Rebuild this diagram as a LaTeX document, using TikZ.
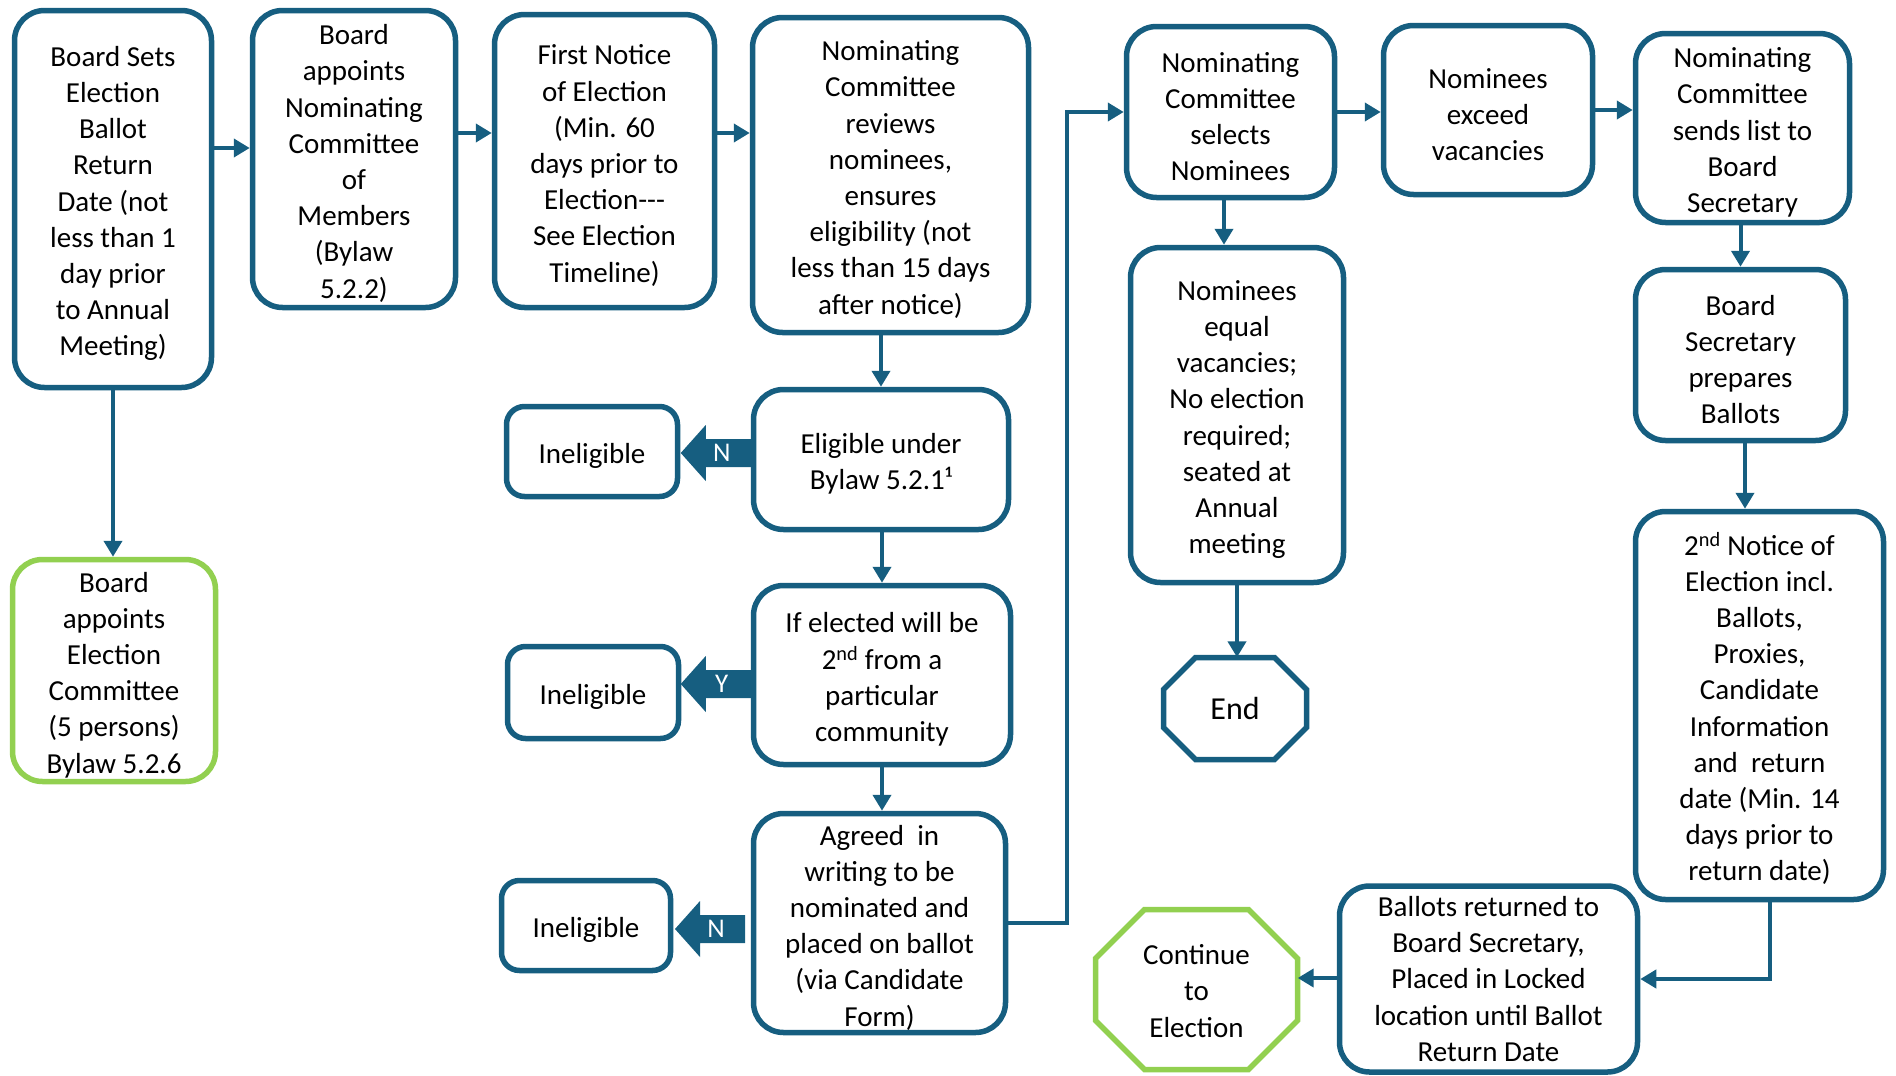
\documentclass[tikz,border=0pt]{standalone}
\usepackage{fontspec}
\setmainfont{Carlito}
\usetikzlibrary{arrows.meta,calc}
\definecolor{myblue}{RGB}{22,94,128}
\definecolor{mygreen}{RGB}{146,208,80}
\newcommand{\fs}{\fontsize{29}{36.2}\selectfont}
\newcommand{\tp}{\rule{0pt}{29pt}}
\newcommand{\blkarrow}[4]{%
  \fill[myblue] ($(#1)+(0,-14)$) -- ++(-45,0) -- ++(0,-14) -- ++(-25,28) -- ++(25,28) -- ++(0,-14) -- ++(45,0) -- cycle;
  \node[text=white, font=\fontsize{27}{30}\selectfont, inner sep=0pt] (#4) at ($(#1)+(-29,0)$) {#2};}
\tikzset{
  box/.style={draw=myblue, line width=5.5pt, rounded corners=30pt, fill=white, align=center, inner sep=0pt, font=\fs},
  gbox/.style={box, draw=mygreen},
  ibox/.style={box, rounded corners=18pt},
  sz/.style 2 args={minimum width=#1pt, minimum height=#2pt},
  conn/.style={draw=myblue, line width=4pt, -{Triangle[length=16pt,width=18pt]}},
  octline/.style={line width=5.5pt, line join=miter},
}
\begin{document}
\begin{tikzpicture}[x=1pt,y=-1pt]
\useasboundingbox (0,0) rectangle (1896,1076);
% nodes
\node[box, sz={197}{377}] (b1) at (113,199) {\tp Board Sets\\Election\\Ballot\\Return\\Date (not\\less than 1\\day prior\\to Annual\\Meeting)};
\node[box, sz={203}{297}] (b2) at (354,159) {\tp Board\\appoints\\Nominating\\Committee\\of\\Members\\(Bylaw\\5.2.2)};
\node[box, sz={220}{293}] (b3) at (604.5,161) {\tp First Notice\\of Election\\(Min. 60\\days prior to\\Election-{}-{}-\\See Election\\Timeline)};
\node[box, sz={276}{315}] (b4) at (890.5,175) {\tp Nominating\\Committee\\reviews\\nominees,\\ensures\\eligibility (not\\less than 15 days\\after notice)};
\node[box, sz={255}{140}] (b5) at (881,459.5) {\tp Eligible under\\Bylaw 5.2.1¹};
\node[ibox, sz={171}{90}] (i1) at (592,451.5) {\tp Ineligible};
\node[box, sz={257}{179}] (b7) at (882,675) {\tp If elected will be\\2\textsuperscript{nd} from a\\particular\\community};
\node[ibox, sz={171}{92}] (i2) at (593,692.5) {\tp Ineligible};
\node[box, sz={252}{219}] (b9) at (879.5,923) {\tp Agreed~ in\\writing to be\\nominated and\\placed on ballot\\(via Candidate\\Form)};
\node[ibox, sz={169}{90}] (i3) at (586,925.5) {\tp Ineligible};
\node[box, sz={208}{171}] (b11) at (1230.5,112) {\tp Nominating\\Committee\\selects\\Nominees};
\node[box, sz={209}{169}] (b12) at (1488,110) {\tp Nominees\\exceed\\vacancies};
\node[box, sz={214}{189}] (b13) at (1742.5,128) {\tp Nominating\\Committee\\sends list to\\Board\\Secretary};
\node[box, sz={213}{335}] (b14) at (1237,415) {\tp Nominees\\equal\\vacancies;\\No election\\required;\\seated at\\Annual\\meeting};
\node[sz={143}{102}, inner sep=0pt, font=\fontsize{32}{38}\selectfont] (end) at (1235,708.5) {End};
\node[box, sz={210}{171}] (b16) at (1740.5,355) {\tp Board\\Secretary\\prepares\\Ballots};
\node[box, sz={248}{388}] (b17) at (1759.5,705.5) {\tp 2\textsuperscript{nd} Notice of\\Election incl.\\Ballots,\\Proxies,\\Candidate\\Information\\and~ return\\date (Min. 14\\days prior to\\return date)};
\node[box, sz={298}{186}] (b18) at (1488.5,979) {Ballots returned to\\Board Secretary,\\Placed in Locked\\location until Ballot\\Return Date};
\node[sz={202}{160}, inner sep=0pt, align=center, font=\fs] (cont) at (1196.5,991) {Continue\\to\\Election};
\node[gbox, sz={203}{222}] (b20) at (114,670.5) {\tp Board\\appoints\\Election\\Committee\\(5 persons)\\Bylaw 5.2.6};
% octagons
\draw[octline, draw=myblue, shift={(end.center)}] (-39.5,-51) -- (39.5,-51) -- (71.5,-19) -- (71.5,19) -- (39.5,51) -- (-39.5,51) -- (-71.5,19) -- (-71.5,-19) -- cycle;
\draw[octline, draw=mygreen, shift={(1196.5,989.5)}] (-52,-80) -- (52,-80) -- (101,-31) -- (101,31) -- (52,80) -- (-52,80) -- (-101,31) -- (-101,-31) -- cycle;
% helper coordinates
\coordinate (h148) at (0,148);
\coordinate (h133) at (0,133);
\coordinate (h453) at (0,453);
\coordinate (h684) at (0,684);
\coordinate (h929) at (0,929);
\coordinate (h978) at (0,978);
\coordinate (v1067) at (1067,0);
\coordinate (v1224) at (1224,0);
\coordinate (v1745) at (1745,0);
\coordinate (v1770) at (1770,0);
\coordinate (v745) at (745,0);
% connectors
\draw[conn] (h148 -| b1.east) -- (h148 -| b2.west);
\draw[conn] (h133 -| b2.east) -- (h133 -| b3.west);
\draw[conn] (h133 -| b3.east) -- (h133 -| b4.west);
\draw[conn] (b1.south) -- (b1.south |- b20.north);
\draw[conn] (b5.north |- b4.south) -- (b5.north);
\draw[conn] (b7.north |- b5.south) -- (b7.north);
\draw[conn] (b7.south) -- (b7.south |- b9.north);
\draw[conn] (b9.east) -- (b9.east -| v1067) |- (b11.west);
\draw[conn] (b11.east) -- (b11.east -| b12.west);
\draw[conn] (b12.east) -- (b12.east -| b13.west);
\draw[conn] (v1224 |- b11.south) -- (v1224 |- b14.north);
\draw[conn] (b14.south) -- (b14.south |- end.north);
\draw[conn] (b16.north |- b13.south) -- (b16.north);
\draw[conn] (v1745 |- b16.south) -- (v1745 |- b17.north);
\draw[conn] (v1770 |- b17.south) |- (b18.east);
\draw[conn] (h978 -| b18.west) -- (h978 -| cont.east);
% block arrows
\coordinate (a1) at (h453 -| b5.west);
\coordinate (a2) at (h684 -| b7.west);
\coordinate (a3) at (h929 -| v745);
\blkarrow{a1}{N}{b5}{l1}
\blkarrow{a2}{Y}{b7}{l2}
\blkarrow{a3}{N}{b9}{l3}
\end{tikzpicture}
\end{document}
